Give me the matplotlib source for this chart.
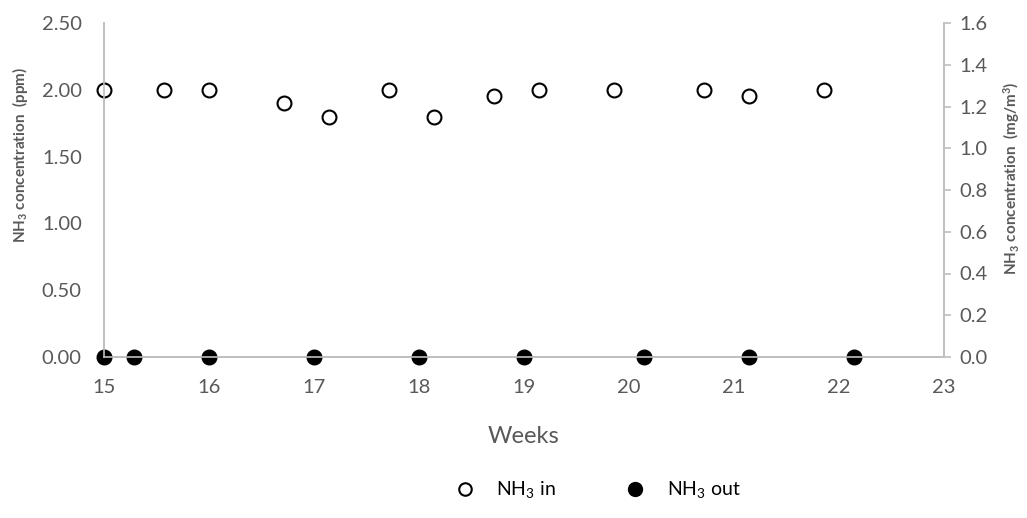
import matplotlib
matplotlib.use("Agg")
import matplotlib.pyplot as plt
from matplotlib.lines import Line2D

plt.rcParams['font.family'] = ['Lato', 'DejaVu Sans']
plt.rcParams['mathtext.fontset'] = 'custom'
plt.rcParams['mathtext.rm'] = 'Lato'
plt.rcParams['mathtext.bf'] = 'Lato:bold'
plt.rcParams['mathtext.it'] = 'Lato:italic'

# Data
weeks_in = [15.0, 15.57, 16.0, 16.71, 17.14, 17.71, 18.14, 18.71, 19.14, 19.86, 20.71, 21.14, 21.86]
nh3_in = [2.00, 2.00, 2.00, 1.90, 1.80, 2.00, 1.80, 1.95, 2.00, 2.00, 2.00, 1.95, 2.00]
weeks_out = [15.0, 15.29, 16.0, 17.0, 18.0, 19.0, 20.14, 21.14, 22.14]
nh3_out = [0.0, 0.0, 0.0, 0.0, 0.0, 0.0, 0.0, 0.0, 0.0]
left_ticks = [0.0, 0.5, 1.0, 1.5, 2.0, 2.5]
right_ticks = [0.0, 0.2, 0.4, 0.6, 0.8, 1.0, 1.2, 1.4, 1.6]
x_ticks = [15, 16, 17, 18, 19, 20, 21, 22, 23]

W, H = 1027, 518
fig = plt.figure(figsize=(W / 100, H / 100), dpi=100)
ax = fig.add_axes([104 / W, 1 - 357 / H, (944 - 104) / W, (357 - 23) / H])
ax2 = ax.twinx()

gray = '#BFBFBF'
tcol = '#595959'

ax.set_xlim(15, 23)
ax.set_ylim(0, 2.5)
ax2.set_ylim(0, 1.6)

ax.plot(weeks_in, nh3_in, linestyle='none', marker='o', markersize=10,
        markerfacecolor='white', markeredgecolor='black', markeredgewidth=1.5,
        clip_on=False, zorder=5)
ax.plot(weeks_out, nh3_out, linestyle='none', marker='o', markersize=10.5,
        markerfacecolor='black', markeredgecolor='black', clip_on=False, zorder=5)

for a in (ax, ax2):
    a.spines['top'].set_visible(False)
    for s in ('left', 'right', 'bottom'):
        a.spines[s].set_color(gray)
        a.spines[s].set_linewidth(1.2)

ax.set_xticks(x_ticks)
ax.set_xticklabels([str(t) for t in x_ticks])
ax.set_yticks(left_ticks)
ax.set_yticklabels([f'{t:.2f}' for t in left_ticks])
ax.tick_params(axis='x', length=0, pad=16, labelsize=14.5, labelcolor=tcol)
ax.tick_params(axis='y', length=0, pad=16, labelsize=14.5, labelcolor=tcol)
ax2.set_yticks(right_ticks)
ax2.set_yticklabels([f'{t:.1f}' for t in right_ticks])
ax2.tick_params(axis='y', length=5, width=1.2, color=gray, direction='out', pad=6,
                labelsize=14.5, labelcolor=tcol)

ax.set_xlabel('Weeks', fontsize=17, color=tcol)
ax.xaxis.set_label_coords(0.5, (357 - 426) / 334)
ax.set_ylabel(r'NH$_\mathbf{3}$ concentration  (ppm)', fontsize=11, fontweight='bold',
              color=tcol, va='center')
ax.yaxis.set_label_coords((20 - 104) / 840, (357 - 155) / 334)
ax2.set_ylabel(r'NH$_\mathbf{3}$ concentration  (mg/m$^\mathbf{3}$)', fontsize=11,
               fontweight='bold', color=tcol, va='center')
ax2.yaxis.set_label_coords((1012 - 104) / 840, (357 - 178) / 334)

handles = [
    Line2D([], [], linestyle='none', marker='o', markersize=9, markerfacecolor='white',
           markeredgecolor='black', markeredgewidth=1.5),
    Line2D([], [], linestyle='none', marker='o', markersize=10, markerfacecolor='black',
           markeredgecolor='black'),
]
fig.legend(handles, [r'NH$_\mathrm{3}$ in', r'NH$_\mathrm{3}$ out'], loc='center',
           bbox_to_anchor=(593 / W, 1 - 490 / H), ncol=2, frameon=False,
           fontsize=14, columnspacing=3.1, handletextpad=0.6)

fig.savefig('out.png', dpi=100)
